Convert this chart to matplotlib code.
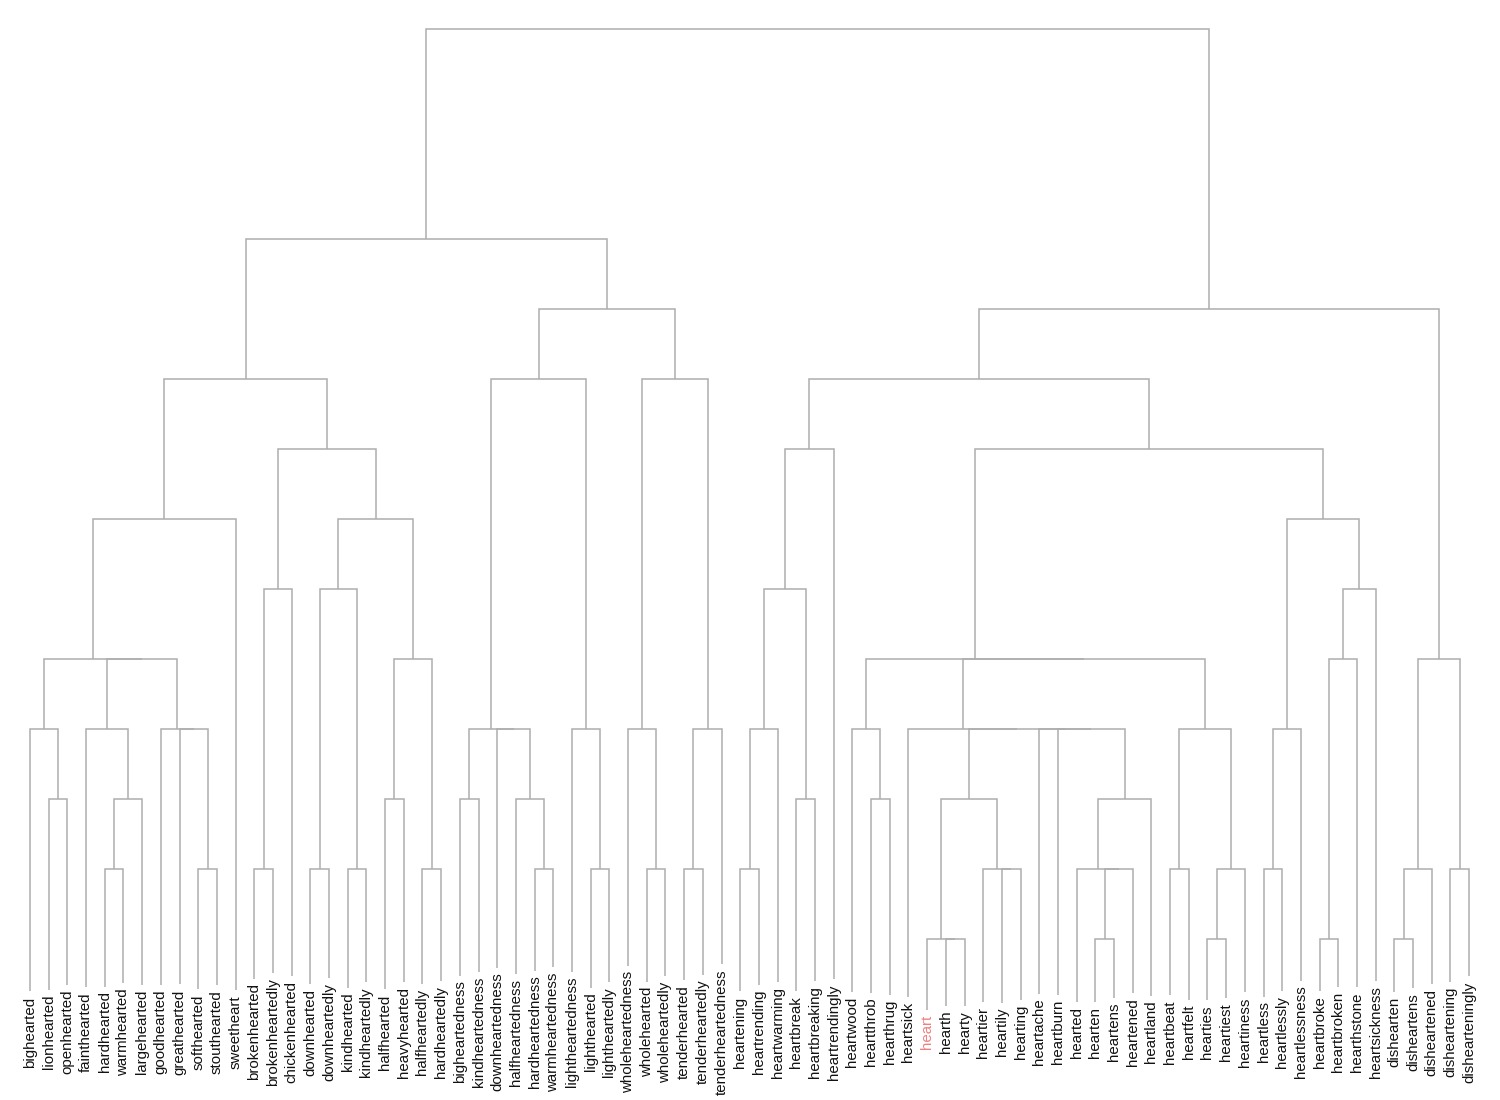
import matplotlib
matplotlib.use("Agg")
import matplotlib.pyplot as plt

leaves = [
    "bighearted", "lionhearted", "openhearted", "fainthearted", "hardhearted",
    "warmhearted", "largehearted", "goodhearted", "greathearted", "softhearted",
    "stouthearted", "sweetheart", "brokenhearted", "brokenheartedly", "chickenhearted",
    "downhearted", "downheartedly", "kindhearted", "kindheartedly", "halfhearted",
    "heavyhearted", "halfheartedly", "hardheartedly", "bigheartedness", "kindheartedness",
    "downheartedness", "halfheartedness", "hardheartedness", "warmheartedness",
    "lightheartedness", "lighthearted", "lightheartedly", "wholeheartedness",
    "wholehearted", "wholeheartedly", "tenderhearted", "tenderheartedly",
    "tenderheartedness", "heartening", "heartrending", "heartwarming", "heartbreak",
    "heartbreaking", "heartrendingly", "heartwood", "heartthrob", "hearthrug",
    "heartsick", "heart", "hearth", "hearty", "heartier", "heartily", "hearting",
    "heartache", "heartburn", "hearted", "hearten", "heartens", "heartened",
    "heartland", "heartbeat", "heartfelt", "hearties", "heartiest", "heartiness",
    "heartless", "heartlessly", "heartlessness", "heartbroke", "heartbroken",
    "hearthstone", "heartsickness", "dishearten", "disheartens", "disheartened",
    "disheartening", "dishearteningly",
]

highlight = "heart"

# (cluster name, left child, right child, merge height)
merges = [
    ("lo", "lionhearted", "openhearted", 3),
    ("big", "bighearted", "lo", 4),
    ("hw", "hardhearted", "warmhearted", 2),
    ("hwl", "hw", "largehearted", 3),
    ("faint", "fainthearted", "hwl", 4),
    ("ss", "softhearted", "stouthearted", 2),
    ("gs", "greathearted", "ss", 4),
    ("good", "goodhearted", "gs", 4),
    ("fg", "faint", "good", 5),
    ("p", "big", "fg", 5),
    ("l1a", "p", "sweetheart", 7),
    ("bk", "brokenhearted", "brokenheartedly", 2),
    ("bkc", "bk", "chickenhearted", 6),
    ("dn", "downhearted", "downheartedly", 2),
    ("kd", "kindhearted", "kindheartedly", 2),
    ("dk", "dn", "kd", 6),
    ("hv", "halfhearted", "heavyhearted", 3),
    ("hl", "halfheartedly", "hardheartedly", 2),
    ("hh", "hv", "hl", 5),
    ("dkhh", "dk", "hh", 7),
    ("l1b", "bkc", "dkhh", 8),
    ("l1", "l1a", "l1b", 9),
    ("bkn", "bigheartedness", "kindheartedness", 3),
    ("hwn", "hardheartedness", "warmheartedness", 2),
    ("hfn", "halfheartedness", "hwn", 3),
    ("dhf", "downheartedness", "hfn", 4),
    ("ness", "bkn", "dhf", 4),
    ("lt", "lighthearted", "lightheartedly", 2),
    ("ltn", "lightheartedness", "lt", 4),
    ("m1", "ness", "ltn", 9),
    ("wh", "wholehearted", "wholeheartedly", 2),
    ("whn", "wholeheartedness", "wh", 4),
    ("td", "tenderhearted", "tenderheartedly", 2),
    ("tdn", "td", "tenderheartedness", 4),
    ("m2", "whn", "tdn", 9),
    ("l2", "m1", "m2", 10),
    ("left", "l1", "l2", 11),
    ("hr", "heartening", "heartrending", 2),
    ("hrw", "hr", "heartwarming", 4),
    ("hbk", "heartbreak", "heartbreaking", 3),
    ("h6", "hrw", "hbk", 6),
    ("h1", "h6", "heartrendingly", 8),
    ("tr", "heartthrob", "hearthrug", 3),
    ("wood", "heartwood", "tr", 4),
    ("hy", "hearth", "hearty", 1),
    ("hrt", "heart", "hy", 1),
    ("il", "heartily", "hearting", 2),
    ("ier", "heartier", "il", 2),
    ("core", "hrt", "ier", 3),
    ("tn", "hearten", "heartens", 1),
    ("tne", "tn", "heartened", 2),
    ("ted", "hearted", "tne", 2),
    ("land", "ted", "heartland", 3),
    ("burn", "heartburn", "land", 4),
    ("ache", "heartache", "burn", 4),
    ("corea", "core", "ache", 4),
    ("sick", "heartsick", "corea", 4),
    ("bf", "heartbeat", "heartfelt", 2),
    ("ies", "hearties", "heartiest", 1),
    ("iness", "ies", "heartiness", 2),
    ("beat", "bf", "iness", 4),
    ("mid", "sick", "beat", 5),
    ("h5", "wood", "mid", 5),
    ("ls", "heartless", "heartlessly", 2),
    ("lsn", "ls", "heartlessness", 4),
    ("brk", "heartbroke", "heartbroken", 1),
    ("stone", "brk", "hearthstone", 5),
    ("sickn", "stone", "heartsickness", 6),
    ("less", "lsn", "sickn", 7),
    ("h2", "h5", "less", 8),
    ("r1", "h1", "h2", 9),
    ("ds", "dishearten", "disheartens", 1),
    ("dsd", "ds", "disheartened", 2),
    ("dng", "disheartening", "dishearteningly", 2),
    ("dis", "dsd", "dng", 5),
    ("right", "r1", "dis", 10),
    ("root", "left", "right", 14),
]

LINE = "#adadad"
plt.rcParams["font.family"] = ["Liberation Sans", "DejaVu Sans"]

fig = plt.figure(figsize=(15, 11), dpi=100)
ax = fig.add_axes([0, 0, 1, 1])
step = 18.69
ax.set_xlim(-30 / step, (1500 - 30) / step)
ax.set_ylim((1009 - 1100) / 70.0, 1009 / 70.0)
ax.axis("off")

label_y = (1009 - 1032) / 70.0
texts = {}
for i, name in enumerate(leaves):
    texts[name] = ax.text(i, label_y, name, rotation=90, ha="center", va="center",
                          fontsize=10.8,
                          color="#f08080" if name == highlight else "#111111")

fig.canvas.draw()
renderer = fig.canvas.get_renderer()
inv = ax.transData.inverted()
gap = 5 / 70.0

xpos = {}
bottom = {}
for i, name in enumerate(leaves):
    bb = texts[name].get_window_extent(renderer)
    top = inv.transform((0, bb.y1))[1]
    xpos[name] = i
    bottom[name] = top + gap

for cname, a, b, h in merges:
    xa, xb = xpos[a], xpos[b]
    ax.plot([xa, xa, xb, xb], [bottom[a], h, h, bottom[b]], color=LINE,
            lw=1.1, solid_joinstyle="miter", solid_capstyle="butt")
    xpos[cname] = (xa + xb) / 2.0
    bottom[cname] = h

fig.savefig("out.png", dpi=100, facecolor="white")
